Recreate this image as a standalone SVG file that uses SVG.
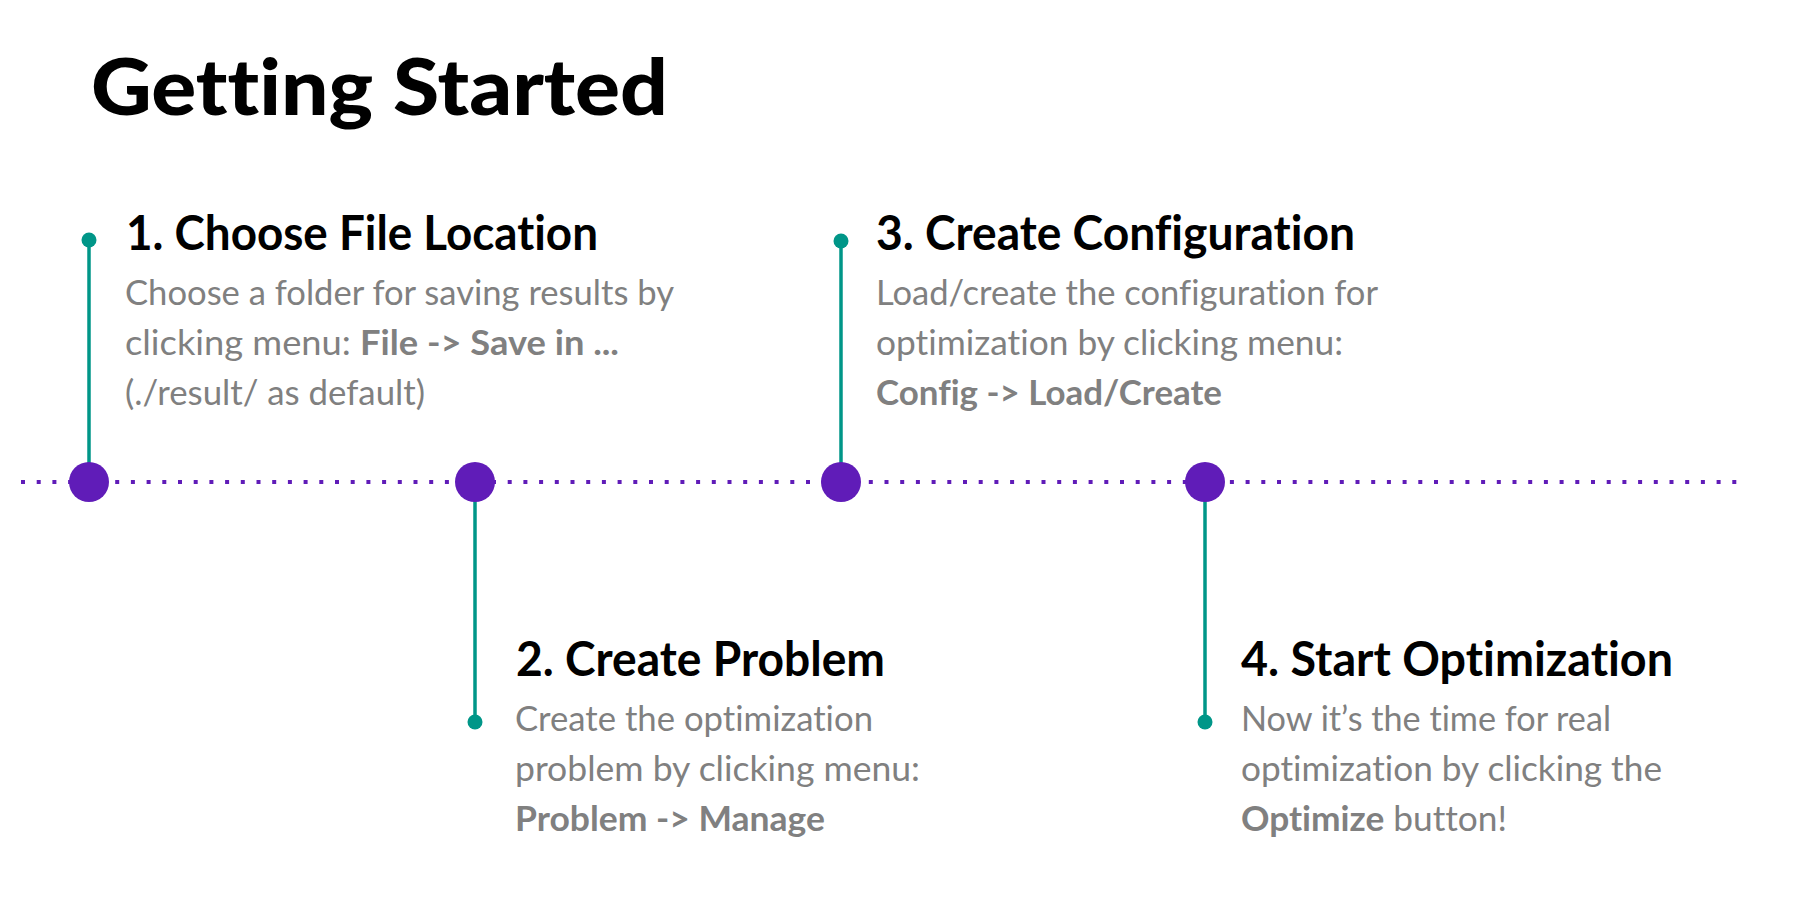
<svg xmlns="http://www.w3.org/2000/svg" width="1797" height="915" viewBox="0 0 1797 915">
<style>
text{font-variant-ligatures:none;font-feature-settings:"liga" 0,"dlig" 0}
.title{font-family:"Lato","Liberation Sans",sans-serif;font-weight:900;font-size:79px;fill:#000}
.head{font-family:"Lato","Liberation Sans",sans-serif;font-weight:700;font-size:48px;fill:#000}
.body{font-family:"Lato","Liberation Sans",sans-serif;font-weight:400;font-size:35px;fill:#808080}
.b{font-weight:700}
.stem{stroke:#009688;stroke-width:3.5;fill:none}
.dot{fill:#009688}
.node{fill:#601cb8}
.timeline{stroke:#601cb8;stroke-width:4;stroke-dasharray:4 11.7;fill:none}
</style>
<rect width="1797" height="915" fill="#fff"/>
<text class="title" x="91" y="115" textLength="577" lengthAdjust="spacingAndGlyphs">Getting Started</text>
<g id="connectors">
<line class="timeline" x1="21" y1="482" x2="1747" y2="482"/>
</g>
<g id="step1">
<line class="stem" x1="89" y1="240" x2="89" y2="482"/>
<circle class="dot" cx="89" cy="240" r="7.5"/>
<circle class="node" cx="89" cy="482" r="20"/>
<text class="head" x="126" y="250" textLength="472" lengthAdjust="spacingAndGlyphs">1. Choose File Location</text>
<text class="body" x="125" y="305" textLength="549" lengthAdjust="spacingAndGlyphs">Choose a folder for saving results by</text>
<text class="body" x="125" y="355" textLength="494" lengthAdjust="spacingAndGlyphs">clicking menu: <tspan class="b">File -&gt; Save in ...</tspan></text>
<text class="body" x="125" y="405" textLength="300" lengthAdjust="spacingAndGlyphs">(./result/ as default)</text>
</g>
<g id="step2">
<line class="stem" x1="475" y1="482" x2="475" y2="722"/>
<circle class="dot" cx="475" cy="722" r="7.5"/>
<circle class="node" cx="475" cy="482" r="20"/>
<text class="head" x="516" y="676" textLength="369" lengthAdjust="spacingAndGlyphs">2. Create Problem</text>
<text class="body" x="515" y="731" textLength="358" lengthAdjust="spacingAndGlyphs">Create the optimization</text>
<text class="body" x="515" y="781" textLength="405" lengthAdjust="spacingAndGlyphs">problem by clicking menu:</text>
<text class="body" x="515" y="831" textLength="310" lengthAdjust="spacingAndGlyphs"><tspan class="b">Problem -&gt; Manage</tspan></text>
</g>
<g id="step3">
<line class="stem" x1="841" y1="241" x2="841" y2="482"/>
<circle class="dot" cx="841" cy="241" r="7.5"/>
<circle class="node" cx="841" cy="482" r="20"/>
<text class="head" x="876" y="250" textLength="479" lengthAdjust="spacingAndGlyphs">3. Create Configuration</text>
<text class="body" x="876" y="305" textLength="502" lengthAdjust="spacingAndGlyphs">Load/create the configuration for</text>
<text class="body" x="876" y="355" textLength="467" lengthAdjust="spacingAndGlyphs">optimization by clicking menu:</text>
<text class="body" x="876" y="405" textLength="346" lengthAdjust="spacingAndGlyphs"><tspan class="b">Config -&gt; Load/Create</tspan></text>
</g>
<g id="step4">
<line class="stem" x1="1205" y1="482" x2="1205" y2="722"/>
<circle class="dot" cx="1205" cy="722" r="7.5"/>
<circle class="node" cx="1205" cy="482" r="20"/>
<text class="head" x="1241" y="676" textLength="432" lengthAdjust="spacingAndGlyphs">4. Start Optimization</text>
<text class="body" x="1241" y="731" textLength="370" lengthAdjust="spacingAndGlyphs">Now it’s the time for real</text>
<text class="body" x="1241" y="781" textLength="421" lengthAdjust="spacingAndGlyphs">optimization by clicking the</text>
<text class="body" x="1241" y="831" textLength="266" lengthAdjust="spacingAndGlyphs"><tspan class="b">Optimize</tspan> button!</text>
</g>
</svg>
